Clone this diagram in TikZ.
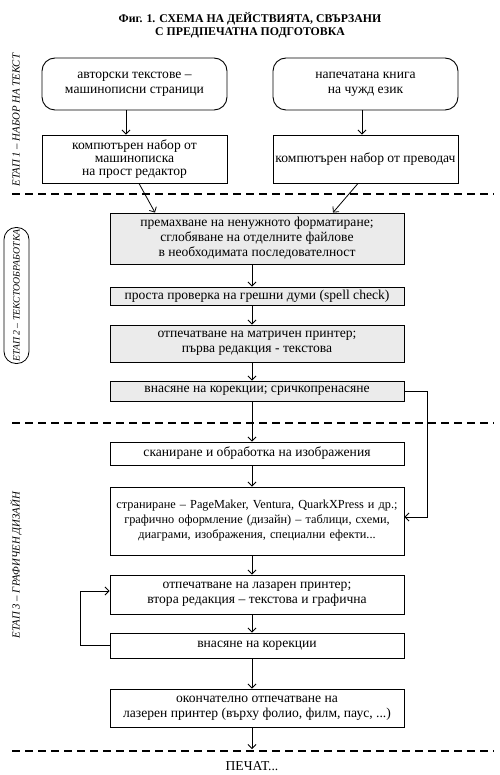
\documentclass[tikz,border=0pt]{standalone}
\usepackage{fontspec}
\setmainfont{Liberation Serif}
\usetikzlibrary{arrows.meta}
\definecolor{boxgray}{gray}{0.92}
\tikzset{
  every node/.style={font=\fontsize{13.6}{15}\selectfont},
  box/.style={draw, line width=0.9pt, inner sep=0pt, align=center, minimum width=294pt},
  sidebox/.style={draw, line width=0.9pt, inner sep=0pt, align=center, minimum width=185pt},
  startbox/.style={sidebox, rounded corners=13pt},
  grayfill/.style={fill=boxgray},
  arr/.style={line width=0.8pt, -{Straight Barb[length=4pt,width=8pt]}},
  sep/.style={line width=1.3pt, dash pattern=on 8pt off 5pt},
  stagelabel/.style={rotate=90, font=\itshape\fontsize{10.8}{13}\selectfont, inner sep=0pt},
}
\begin{document}
\begin{tikzpicture}[x=1pt, y=-1pt]
\useasboundingbox (0,0) rectangle (499,775);

% title
\node[font=\bfseries\fontsize{11.8}{13}\selectfont, align=center] (title) at (250,25)
  {Фиг. 1. СХЕМА НА ДЕЙСТВИЯТА, СВЪРЗАНИ\\С ПРЕДПЕЧАТНА ПОДГОТОВКА};

% axis coordinates for arrows
\coordinate (ax) at (252,0);
\coordinate (axa) at (126,0);
\coordinate (axb) at (362,0);
\coordinate (fbr) at (427,450);
\coordinate (fbl) at (80,620);
\coordinate (endp) at (252,749);

% stage 1
\node[startbox, minimum height=52pt] (A) at (134.5,84) {авторски текстове –\\машинописни страници};
\node[startbox, minimum height=52pt] (B) at (365.5,84) {напечатана книга\\на чужд език};
\node[sidebox, minimum height=48pt, font=\fontsize{13.6}{13}\selectfont] (C) at (134.5,159) {компютърен набор от\\машинописка\\на прост редактор};
\node[sidebox, minimum height=48pt] (D) at (365.5,159) {компютърен набор от преводач};

% stage 2
\node[box, grayfill, minimum height=51pt] (E) at (257,238.5) {премахване на ненужното форматиране;\\сглобяване на отделните файлове\\в необходимата последователност};
\node[box, grayfill, minimum height=18pt] (F) at (257,296) {проста проверка на грешни думи (spell check)};
\node[box, grayfill, minimum height=37pt] (G) at (257,343.5) {отпечатване на матричен принтер;\\първа редакция - текстова};
\node[box, grayfill, minimum height=20pt] (H) at (257,391) {внасяне на корекции; сричкопренасяне};

% stage 3
\node[box, minimum height=23pt] (J) at (257,453.5) {сканиране и обработка на изображения};
\node[box, minimum height=68pt, text width=294pt, font=\fontsize{12.3}{15}\selectfont] (I) at (257,521) {страниране – PageMaker, Ventura, QuarkXPress и др.;\\графично оформление (дизайн) – таблици, схеми,\\диаграми, изображения, специални ефекти...};
\node[box, minimum height=39pt] (K) at (257,594.5) {отпечатване на лазарен принтер;\\втора редакция – текстова и графична};
\node[box, minimum height=25pt] (L) at (257,645.5) {внасяне на корекции};
\node[box, minimum height=38pt] (M) at (257,708) {окончателно отпечатване на\\лазерен принтер (върху фолио, филм, паус, ...)};

\node (P) at (252,766) {ПЕЧАТ...};

% separators
\draw[sep] (12,194) -- (494,194);
\draw[sep] (12,423) -- (494,423);
\draw[sep] (12,751) -- (494,751);

% stage labels
\node[stagelabel] (S1) at (16,120) {ЕТАП 1 – НАБОР НА ТЕКСТ};
\node[stagelabel, font=\itshape\fontsize{9.8}{12}\selectfont, draw, line width=0.8pt, rounded corners=12pt, minimum width=136pt, minimum height=25pt] (S2) at (16.5,295.5) {ЕТАП 2 – ТЕКСТООБРАБОТКА};
\node[stagelabel] (S3) at (16,565) {ЕТАП 3 – ГРАФИЧЕН ДИЗАЙН};

% connectors
\draw[arr] (A.south -| axa) -- (C.north -| axa);
\draw[arr] (B.south -| axb) -- (D.north -| axb);
\draw[arr] ([xshift=4.5pt]C.south) -- ([xshift=-102pt]E.north);
\draw[arr] ([xshift=-7.5pt]D.south) -- ([xshift=76pt]E.north);
\draw[arr] (E.south -| ax) -- (F.north -| ax);
\draw[arr] (F.south -| ax) -- (G.north -| ax);
\draw[arr] (G.south -| ax) -- (H.north -| ax);
\draw[arr] (H.south -| ax) -- (J.north -| ax);
\draw[arr] (J.south -| ax) -- (I.north -| ax);
\draw[arr] (I.south -| ax) -- (K.north -| ax);
\draw[arr] (K.south -| ax) -- (L.north -| ax);
\draw[arr] (L.south -| ax) -- (M.north -| ax);
\draw[arr] (M.south -| ax) -- (endp);
\draw[arr] (H.east) -- (H.east -| fbr) |- ([yshift=4pt]I.east);
\draw[arr] (L.west) -- (L.west -| fbl) |- ([yshift=3.5pt]K.west);
\end{tikzpicture}
\end{document}
